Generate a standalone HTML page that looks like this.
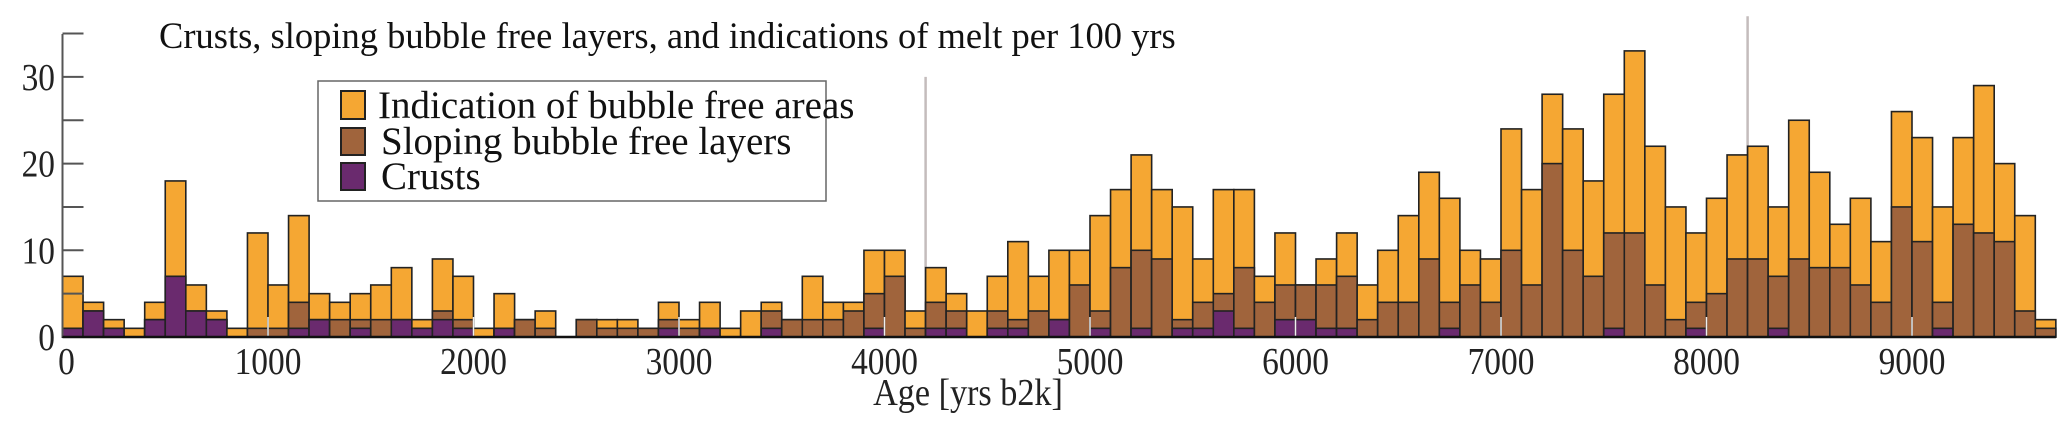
<!DOCTYPE html>
<html><head><meta charset="utf-8">
<style>
html,body{margin:0;padding:0;background:#fff;}
svg{display:block;font-family:"Liberation Serif",serif;}
</style></head>
<body>
<svg id="chart" width="2067" height="434" viewBox="0 0 2067 434" xmlns="http://www.w3.org/2000/svg">
<g id="bars"></g>
<g id="axes"></g>
<text x="159" y="48" font-size="36.5" fill="#111">Crusts, sloping bubble free layers, and indications of melt per 100 yrs</text>
<text transform="translate(968,405) scale(0.9,1)" font-size="38" fill="#222" text-anchor="middle">Age [yrs b2k]</text>
<g>
<rect x="318" y="81" width="508" height="120" fill="#fff" stroke="#666" stroke-width="1.5"/>
<g>
<rect x="341" y="91" width="24" height="28" fill="#f5a733" stroke="#222" stroke-width="2"/>
<text x="378" y="118" font-size="39" fill="#111">Indication of bubble free areas</text></g>
<g>
<rect x="341" y="128" width="24" height="27" fill="#a0643c" stroke="#222" stroke-width="2"/>
<text x="381" y="154" font-size="39" fill="#111">Sloping bubble free layers</text></g>
<g>
<rect x="341" y="163" width="24" height="27" fill="#6a2a6e" stroke="#222" stroke-width="2"/>
<text x="381" y="189" font-size="39" fill="#111">Crusts</text></g>
</g>
</svg>
<script>
const binStarts = Array.from({length:97},(_,i)=>i*100);
const totals = [7,4,2,1,4,18,6,3,1,12,6,14,5,4,5,6,8,2,9,7,1,5,2,3,0,2,2,2,1,4,2,4,1,3,4,2,7,4,4,10,10,3,8,5,3,7,11,7,10,10,14,17,21,17,15,9,17,17,7,12,6,9,12,6,10,14,19,16,10,9,24,17,28,24,18,28,33,22,15,12,16,21,22,15,25,19,13,16,11,26,23,15,23,29,20,14,2];
const sloping = [1,3,1,0,2,7,3,2,0,1,1,4,2,2,2,2,2,1,3,2,0,1,2,1,0,2,1,1,1,2,1,1,0,0,3,2,2,2,3,5,7,1,4,3,0,3,2,3,2,6,3,8,10,9,2,4,5,8,4,6,6,6,7,2,4,4,9,4,6,4,10,6,20,10,7,12,12,6,2,4,5,9,9,7,9,8,8,6,4,15,11,4,13,12,11,3,1];
const crusts = [1,3,1,0,2,7,3,2,0,0,0,1,2,0,1,0,2,1,2,1,0,1,0,0,0,0,0,0,0,1,0,1,0,0,1,0,0,0,0,1,0,0,1,1,0,1,1,0,2,0,1,0,1,0,1,1,3,1,0,2,2,1,1,0,0,0,0,1,0,0,0,0,0,0,0,1,0,0,0,1,0,0,0,1,0,0,0,0,0,0,0,1,0,0,0,0,0];
const yTicks = [0,10,20,30];
const xTicks = [0,1000,2000,3000,4000,5000,6000,7000,8000,9000];
const markerAges = [4200,8200];
const markerTops = [30,37];

const X0=62.5, XS=0.2055, Y0=337, YS=8.67;
const xs = a => X0 + a*XS;
const ys = v => Y0 - v*YS;
const NS="http://www.w3.org/2000/svg";
function mk(tag, attrs, parent){const e=document.createElementNS(NS,tag);for(const k in attrs)e.setAttribute(k,attrs[k]);parent.appendChild(e);return e;}
const bars=document.getElementById('bars'), axes=document.getElementById('axes');
markerAges.forEach((a,i)=>{
  const l=mk('line',{x1:xs(a),x2:xs(a),y1:ys(markerTops[i]),y2:Y0,stroke:'#c4bcbc','stroke-width':2.5},bars);
  
  
});
binStarts.forEach((a,i)=>{
  const x=xs(a), w=xs(a+100)-x;
  const layers=[[totals[i],'#f5a733','bar-bubble-free'],[sloping[i],'#a0643c','bar-sloping'],[crusts[i],'#6a2a6e','bar-crust']];
  layers.forEach(([v,c,n])=>{
    if(v<=0) return;
    const r=mk('rect',{x:x,y:ys(v),width:w,height:v*YS,fill:c,stroke:'#222','stroke-width':1.6},bars);
    
    
  });
});
xTicks.slice(1).forEach(t=>{
  const l=mk('line',{x1:xs(t),x2:xs(t),y1:Y0-20,y2:Y0,stroke:'#eee','stroke-width':1.5},axes);
  
  
});
const ya=mk('line',{x1:X0,x2:X0,y1:34,y2:Y0,stroke:'#555','stroke-width':2},axes);


[0,5,10,15,20,25,30,35].forEach(v=>{
  const l=mk('line',{x1:X0,x2:X0+21,y1:ys(v),y2:ys(v),stroke:'#555','stroke-width':2},axes);
  
  
});
yTicks.forEach(v=>{
  const t=mk('text',{transform:'translate(55,'+(ys(v)+13)+') scale(0.88,1)','font-size':38,'text-anchor':'end',fill:'#222'},axes);
  t.textContent=v;
  
  
});
const xa=mk('line',{x1:X0,x2:xs(9700),y1:Y0,y2:Y0,stroke:'#111','stroke-width':2.5},axes);


xTicks.forEach(v=>{
  const t=mk('text',{transform:'translate('+(xs(v)+(v===0?4:0))+',374) scale(0.88,1)','font-size':38,'text-anchor':'middle',fill:'#222'},axes);
  t.textContent=v;
  
  
});
</script>
</body></html>
